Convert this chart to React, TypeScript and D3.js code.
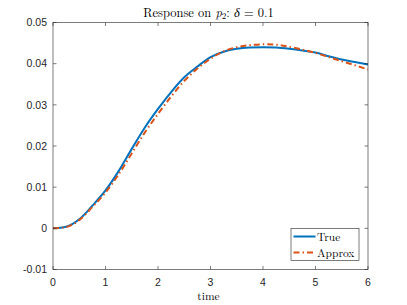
import React from "react";
import * as d3 from "d3";

const times = [0, 0.25, 0.5, 0.75, 1, 1.25, 1.5, 1.75, 2, 2.25, 2.5, 2.75, 3, 3.25, 3.5, 3.75, 4, 4.25, 4.5, 4.75, 5, 5.25, 5.5, 5.75, 6];
const trueValues = [0, 0.0004, 0.0022, 0.0055, 0.0092, 0.0139, 0.0193, 0.0245, 0.029, 0.0331, 0.0367, 0.0393, 0.0416, 0.0429, 0.0436, 0.0439, 0.044, 0.0439, 0.0436, 0.0432, 0.0427, 0.0418, 0.041, 0.0404, 0.0398];
const approxValues = [0, 0.0003, 0.002, 0.0052, 0.0087, 0.0131, 0.0182, 0.0233, 0.0278, 0.032, 0.0358, 0.0388, 0.0412, 0.043, 0.044, 0.0445, 0.0447, 0.0446, 0.0441, 0.0434, 0.0426, 0.0416, 0.0406, 0.0396, 0.0386];
const xTicks = [0, 1, 2, 3, 4, 5, 6];
const yTicks = [-0.01, 0, 0.01, 0.02, 0.03, 0.04, 0.05];
const yTickLabels = ["-0.01", "0", "0.01", "0.02", "0.03", "0.04", "0.05"];
const seriesNames = ["True", "Approx"];

export default function App() {
  const L = 53, R = 368, T = 22.5, B = 269.5;
  const x = d3.scaleLinear().domain([0, 6]).range([L, R]);
  const y = d3.scaleLinear().domain([-0.01, 0.05]).range([B, T]);
  const line = d3
    .line<number>()
    .x((_, i) => x(times[i]))
    .y((d) => y(d))
    .curve(d3.curveMonotoneX);
  const axisColor = "#262626";
  const sans = "Helvetica, Arial, 'Liberation Sans', sans-serif";
  const serif = "'Latin Modern Roman', 'CMU Serif', 'Liberation Serif', 'Times New Roman', serif";
  return (
    <svg width={407} height={305} style={{ position: "absolute", left: 0, top: 0 }}>
      <rect x={0} y={0} width={407} height={305} fill="#fff" />
      <defs>
        <clipPath id="plotclip">
          <rect x={L} y={T} width={R - L} height={B - T} />
        </clipPath>
      </defs>
      <g clipPath="url(#plotclip)">
        <path d={line(trueValues) || ""} fill="none" stroke="#0072BD" strokeWidth={2} />
        <path d={line(approxValues) || ""} fill="none" stroke="#D95319" strokeWidth={2} strokeDasharray="6 3 1.5 3" />
      </g>
      <rect x={L} y={T} width={R - L} height={B - T} fill="none" stroke={axisColor} strokeWidth={0.6} />
      {xTicks.map((t) => (
        <g key={"x" + t}>
          <line x1={x(t)} x2={x(t)} y1={B} y2={B - 3.5} stroke={axisColor} strokeWidth={0.6} />
          <line x1={x(t)} x2={x(t)} y1={T} y2={T + 3.5} stroke={axisColor} strokeWidth={0.6} />
          <text x={x(t)} y={285.5} textAnchor="middle" fontFamily={sans} fontSize={10.5} fill={axisColor}>
            {t}
          </text>
        </g>
      ))}
      {yTicks.map((v, i) => (
        <g key={"y" + i}>
          <line x1={L} x2={L + 3.5} y1={y(v)} y2={y(v)} stroke={axisColor} strokeWidth={0.6} />
          <line x1={R} x2={R - 3.5} y1={y(v)} y2={y(v)} stroke={axisColor} strokeWidth={0.6} />
          <text x={L - 6} y={y(v) + 3.8} textAnchor="end" fontFamily={sans} fontSize={10.5} fill={axisColor}>
            {yTickLabels[i]}
          </text>
        </g>
      ))}
      <text x={208.5} y={16.5} textAnchor="middle" fontFamily={serif} fontSize={12.5} fill="#000">
        Response on <tspan fontStyle="italic">p</tspan>
        <tspan fontSize={9} dy={2}>2</tspan>
        <tspan dy={-2}>: </tspan>
        <tspan fontStyle="italic">δ</tspan> = 0.1
      </text>
      <text x={208.5} y={300} textAnchor="middle" fontFamily={serif} fontSize={11.5} fill="#000">
        time
      </text>
      <g>
        <rect x={291} y={228.5} width={68} height={32} fill="#fff" stroke={axisColor} strokeWidth={0.6} />
        <line x1={293.5} x2={315.5} y1={236.5} y2={236.5} stroke="#0072BD" strokeWidth={2} />
        <line x1={293.5} x2={315.5} y1={252.5} y2={252.5} stroke="#D95319" strokeWidth={2} strokeDasharray="6 3 1.5 3" />
        <text x={317} y={240.5} fontFamily={serif} fontSize={11.5} fill="#000">{seriesNames[0]}</text>
        <text x={317} y={256.5} fontFamily={serif} fontSize={11.5} fill="#000">{seriesNames[1]}</text>
      </g>
    </svg>
  );
}
